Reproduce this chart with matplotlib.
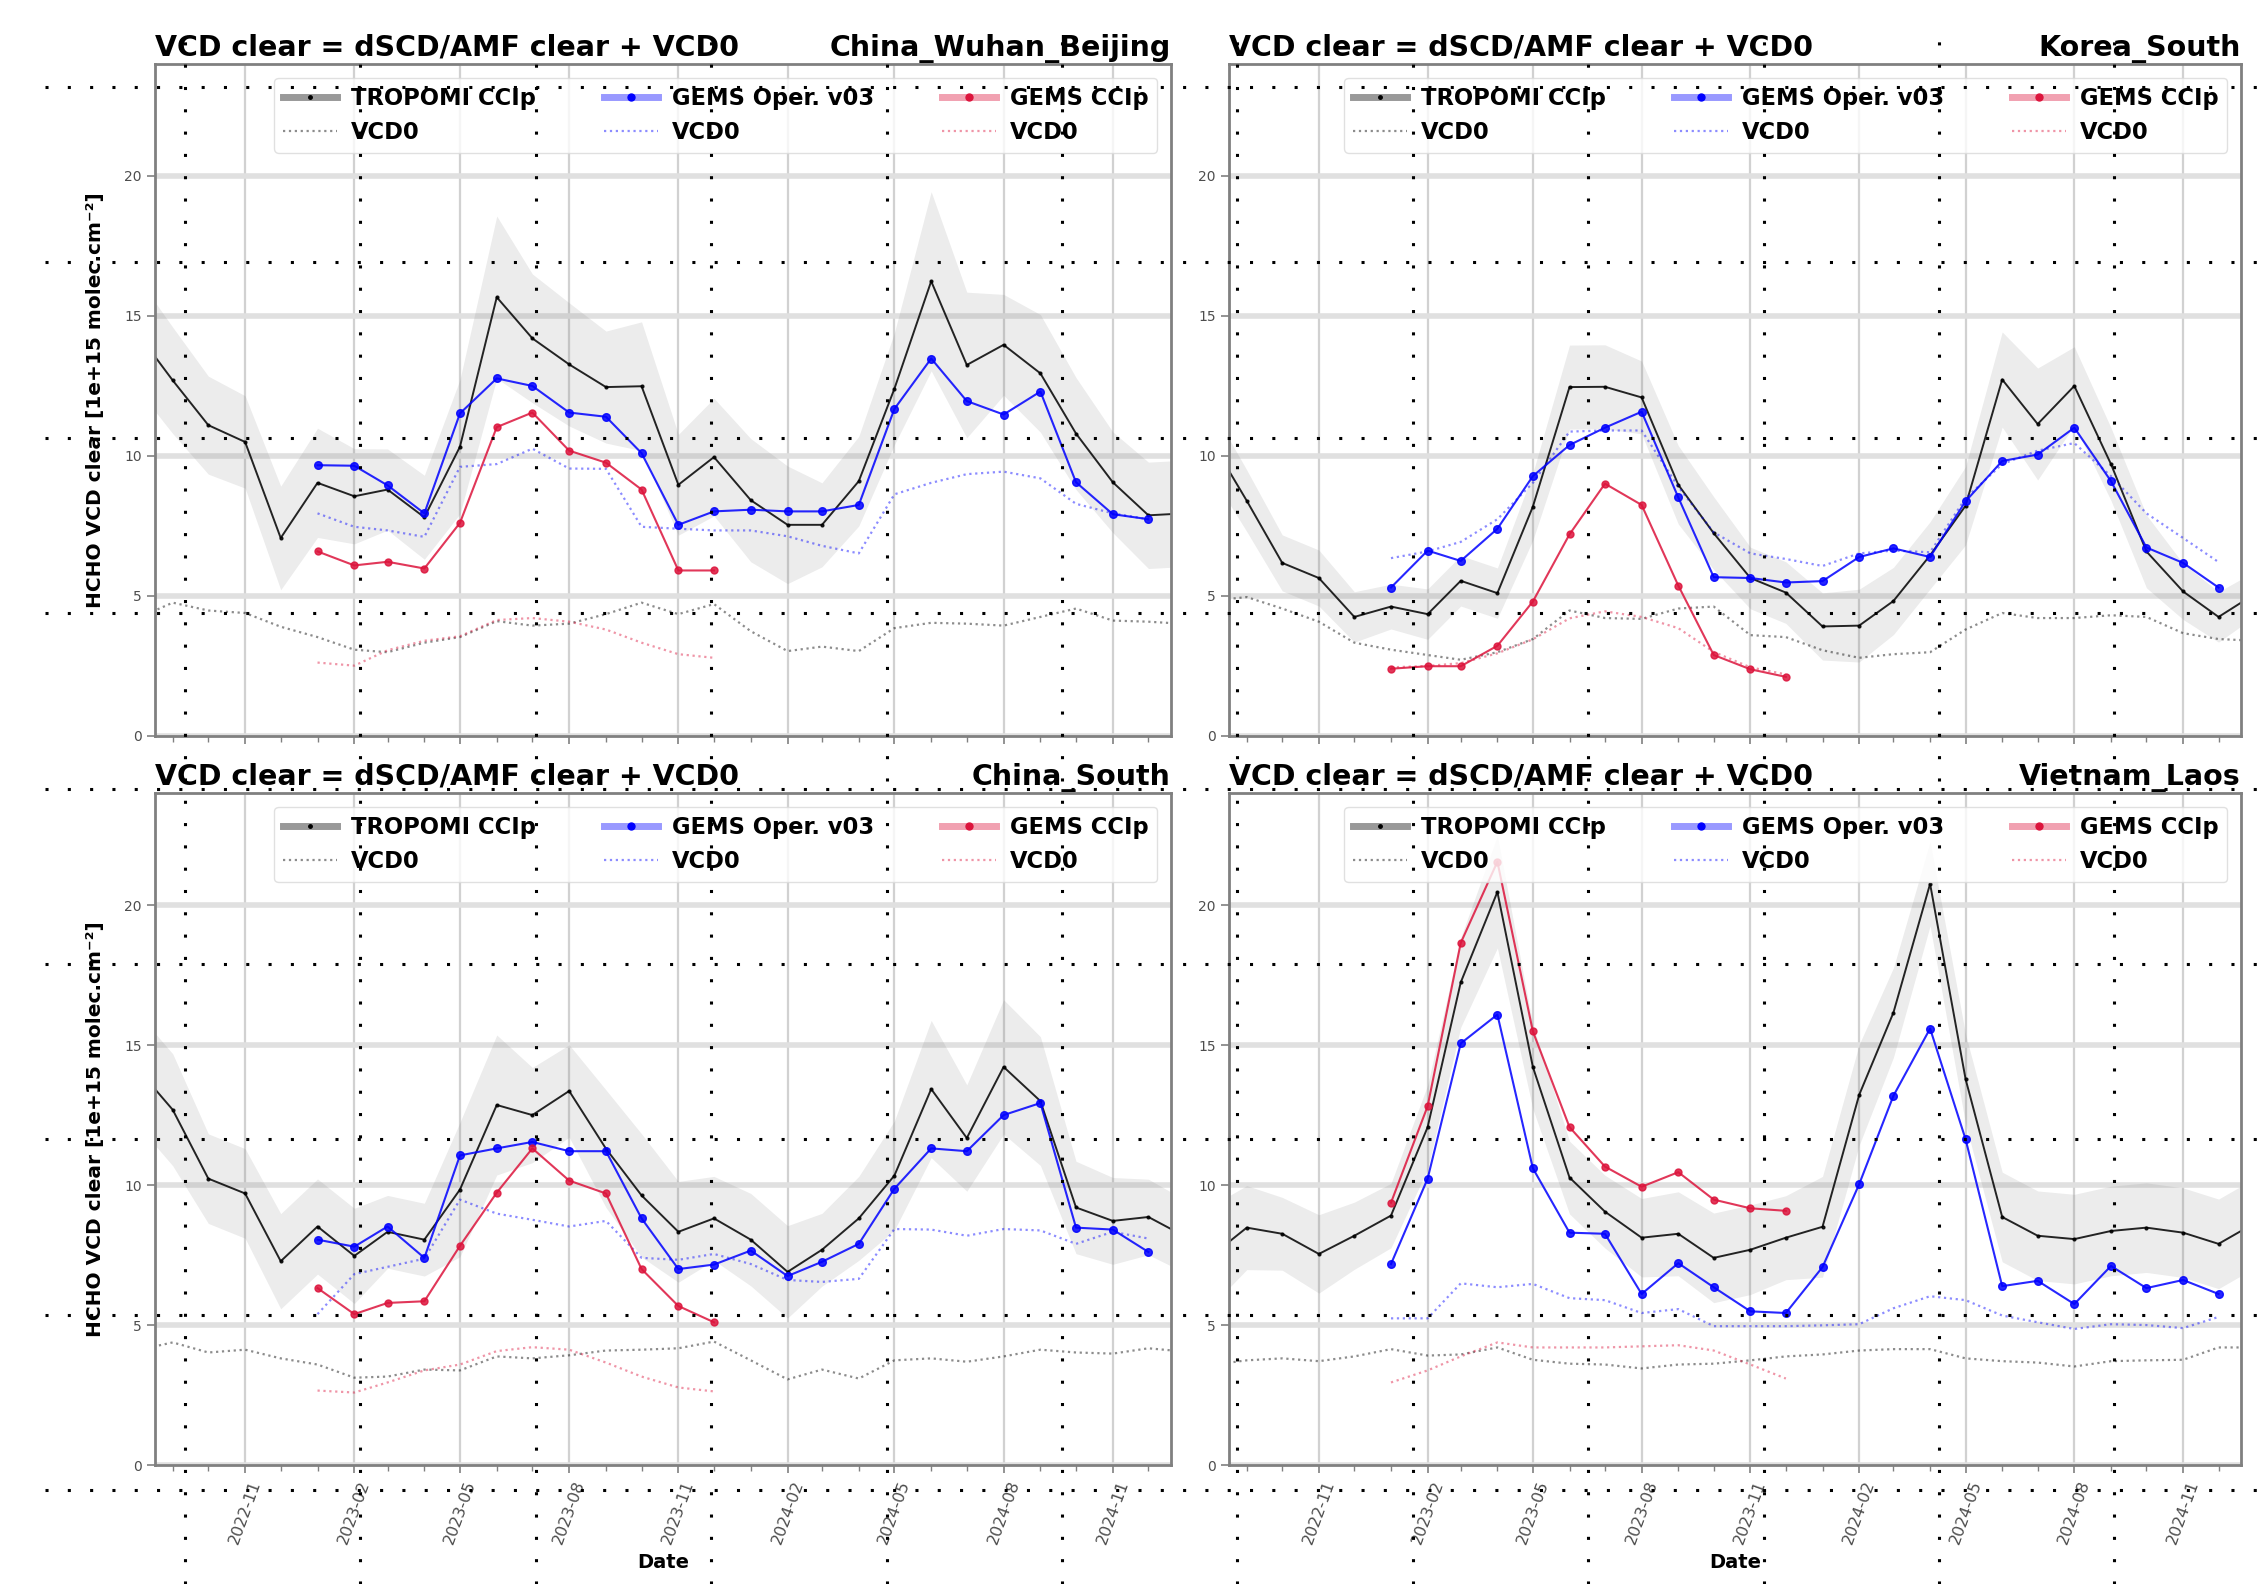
import numpy as np
import pandas as pd
import matplotlib
matplotlib.use('Agg')
import matplotlib.pyplot as plt
import matplotlib.dates as mdates
from matplotlib.lines import Line2D

# Monthly dates of each product
dates_trop = pd.date_range('2022-08-01', '2025-01-01', freq='MS')
dates_gems = pd.date_range('2023-01-01', '2024-12-01', freq='MS')
dates_ccip = pd.date_range('2023-01-01', '2023-12-01', freq='MS')

regions = ['China_Wuhan_Beijing', 'Korea_South', 'China_South', 'Vietnam_Laos']

# China_Wuhan_Beijing
trop_wuhan = [14.46, 12.70, 11.10, 10.50, 7.07, 9.04, 8.56, 8.80, 7.81, 10.33, 15.67, 14.20, 13.27, 12.46, 12.49,
              8.97, 9.96, 8.42, 7.54, 7.54, 9.10, 12.4, 16.24, 13.25, 13.97, 12.95, 10.80, 9.06, 7.88, 7.95]
trop_sd_wuhan = [2.0, 1.9, 1.75, 1.65, 1.85, 1.95, 1.7, 1.45, 1.5, 2.4, 2.9, 2.3, 2.2, 2.0, 2.3,
                 1.8, 2.1, 2.2, 2.1, 1.5, 1.6, 2.0, 3.2, 2.6, 1.8, 2.1, 2.0, 1.8, 1.9, 1.9]
trop_vcd0_wuhan = [4.18, 4.76, 4.48, 4.39, 3.90, 3.53, 3.08, 2.99, 3.33, 3.53, 4.10, 3.94, 4.01, 4.35, 4.76,
                   4.35, 4.71, 3.74, 3.03, 3.19, 3.03, 3.85, 4.04, 4.01, 3.94, 4.25, 4.55, 4.12, 4.08, 4.0]
gems_wuhan = [9.67, 9.65, 8.95, 7.95, 11.52, 12.77, 12.50, 11.55, 11.40, 10.10, 7.54, 8.02,
              8.08, 8.02, 8.02, 8.25, 11.68, 13.48, 11.96, 11.48, 12.30, 9.06, 7.92, 7.74]
gems_vcd0_wuhan = [7.95, 7.47, 7.34, 7.11, 9.61, 9.71, 10.26, 9.55, 9.54, 7.47, 7.40, 7.34,
                   7.34, 7.13, 6.79, 6.52, 8.63, 9.04, 9.35, 9.44, 9.20, 8.29, 7.95, 7.74]
ccip_wuhan = [6.59, 6.09, 6.22, 5.98, 7.61, 11.03, 11.55, 10.19, 9.76, 8.80, 5.91, 5.91]
ccip_vcd0_wuhan = [2.62, 2.51, 3.06, 3.40, 3.56, 4.14, 4.21, 4.08, 3.80, 3.33, 2.92, 2.79]

# Korea_South
trop_korea = [10.6, 8.4, 6.18, 5.64, 4.25, 4.62, 4.35, 5.54, 5.10, 8.19, 12.46, 12.47, 12.09, 8.97, 7.24,
              5.64, 5.12, 3.91, 3.94, 4.82, 6.45, 8.22, 12.73, 11.14, 12.50, 9.71, 6.59, 5.16, 4.25, 5.08]
trop_sd_korea = [1.2, 1.1, 1.0, 1.0, 0.9, 0.8, 0.9, 0.9, 0.9, 1.2, 1.5, 1.5, 1.3, 1.4, 1.3,
                 1.1, 1.1, 1.2, 1.3, 1.2, 1.2, 1.4, 1.7, 2.0, 1.4, 1.3, 1.3, 1.0, 0.9, 0.8]
trop_vcd0_korea = [4.82, 4.96, 4.55, 4.08, 3.33, 3.08, 2.89, 2.72, 2.99, 3.46, 4.48, 4.21, 4.18, 4.55, 4.62,
                   3.60, 3.53, 3.06, 2.79, 2.92, 2.99, 3.80, 4.39, 4.21, 4.21, 4.31, 4.25, 3.67, 3.46, 3.4]
gems_korea = [5.30, 6.62, 6.25, 7.40, 9.28, 10.39, 11.01, 11.58, 8.52, 5.67, 5.64, 5.48,
              5.53, 6.39, 6.70, 6.39, 8.38, 9.82, 10.05, 11.01, 9.10, 6.73, 6.18, 5.30]
gems_vcd0_korea = [6.35, 6.59, 6.93, 7.74, 9.04, 10.87, 10.91, 10.91, 8.90, 7.27, 6.52, 6.32,
                   6.07, 6.52, 6.62, 6.56, 8.49, 9.71, 10.19, 10.46, 9.28, 7.95, 7.07, 6.21]
ccip_korea = [2.40, 2.49, 2.49, 3.22, 4.80, 7.20, 9.01, 8.25, 5.37, 2.89, 2.38, 2.11]
ccip_vcd0_korea = [2.45, 2.5, 2.6, 2.95, 3.45, 4.2, 4.45, 4.25, 3.85, 3.0, 2.45, 2.2]

# China_South
trop_south = [14.22, 12.69, 10.23, 9.70, 7.28, 8.52, 7.47, 8.33, 8.05, 9.84, 12.86, 12.50, 13.36, 11.3, 9.63,
              8.33, 8.81, 8.05, 6.90, 7.69, 8.81, 10.34, 13.43, 11.68, 14.22, 13.0, 9.20, 8.72, 8.86, 8.16]
trop_sd_south = [2.0, 2.0, 1.6, 1.6, 1.7, 1.7, 1.7, 1.3, 1.3, 2.4, 2.5, 1.7, 1.65, 2.1, 2.2,
                 1.8, 1.5, 1.65, 1.65, 1.3, 1.5, 1.95, 2.45, 1.9, 2.4, 2.3, 1.65, 1.55, 1.35, 1.3]
trop_vcd0_south = [4.09, 4.38, 4.02, 4.12, 3.81, 3.59, 3.12, 3.16, 3.41, 3.38, 3.88, 3.81, 3.92, 4.09, 4.12,
                   4.17, 4.41, 3.74, 3.06, 3.41, 3.09, 3.74, 3.81, 3.69, 3.88, 4.12, 4.02, 3.98, 4.17, 4.05]
gems_south = [8.05, 7.80, 8.52, 7.40, 11.06, 11.31, 11.54, 11.21, 11.21, 8.81, 7.0, 7.16,
              7.66, 6.75, 7.26, 7.90, 9.87, 11.31, 11.21, 12.50, 12.93, 8.48, 8.41, 7.61]
gems_vcd0_south = [5.39, 6.82, 7.08, 7.37, 9.48, 8.98, 8.76, 8.52, 8.72, 7.40, 7.33, 7.54,
                   7.18, 6.61, 6.54, 6.65, 8.43, 8.41, 8.19, 8.43, 8.38, 7.90, 8.33, 8.09]
ccip_south = [6.32, 5.39, 5.79, 5.85, 7.83, 9.73, 11.31, 10.16, 9.70, 7.0, 5.68, 5.10]
ccip_vcd0_south = [2.66, 2.59, 2.95, 3.38, 3.59, 4.07, 4.21, 4.12, 3.66, 3.16, 2.77, 2.63]

# Vietnam_Laos
trop_viet = [7.43, 8.48, 8.26, 7.54, 8.19, 8.91, 12.07, 17.24, 20.47, 14.22, 10.27, 9.05, 8.12, 8.26, 7.40,
             7.69, 8.12, 8.51, 13.22, 16.16, 20.76, 13.79, 8.86, 8.19, 8.07, 8.36, 8.48, 8.30, 7.90, 8.65]
trop_sd_viet = [1.8, 1.5, 1.3, 1.4, 1.2, 1.15, 1.5, 1.6, 2.0, 1.5, 1.3, 1.3, 1.4, 1.5, 1.6,
                1.6, 1.5, 1.8, 1.8, 1.6, 1.5, 1.6, 1.6, 1.6, 1.6, 1.6, 1.6, 1.6, 1.6, 1.6]
trop_vcd0_viet = [3.57, 3.74, 3.81, 3.71, 3.88, 4.14, 3.91, 3.95, 4.20, 3.76, 3.62, 3.59, 3.45, 3.59, 3.62,
                  3.74, 3.88, 3.95, 4.09, 4.14, 4.14, 3.81, 3.71, 3.66, 3.52, 3.71, 3.74, 3.76, 4.20, 4.2]
gems_viet = [7.18, 10.23, 15.06, 16.09, 10.60, 8.30, 8.26, 6.11, 7.21, 6.35, 5.49, 5.43,
             7.07, 10.03, 13.19, 15.59, 11.64, 6.39, 6.58, 5.75, 7.11, 6.32, 6.61, 6.11]
gems_vcd0_viet = [5.24, 5.24, 6.49, 6.35, 6.47, 5.96, 5.89, 5.43, 5.57, 4.96, 4.96, 4.96,
                  4.99, 5.03, 5.60, 6.03, 5.89, 5.34, 5.10, 4.86, 5.03, 5.0, 4.89, 5.29]
ccip_viet = [9.37, 12.82, 18.65, 21.55, 15.49, 12.07, 10.66, 9.94, 10.46, 9.48, 9.17, 9.08]
ccip_vcd0_viet = [2.95, 3.38, 3.88, 4.38, 4.20, 4.20, 4.20, 4.24, 4.28, 4.09, 3.59, 3.09]

panels = [
    (trop_wuhan, trop_sd_wuhan, trop_vcd0_wuhan, gems_wuhan, gems_vcd0_wuhan, ccip_wuhan, ccip_vcd0_wuhan),
    (trop_korea, trop_sd_korea, trop_vcd0_korea, gems_korea, gems_vcd0_korea, ccip_korea, ccip_vcd0_korea),
    (trop_south, trop_sd_south, trop_vcd0_south, gems_south, gems_vcd0_south, ccip_south, ccip_vcd0_south),
    (trop_viet, trop_sd_viet, trop_vcd0_viet, gems_viet, gems_vcd0_viet, ccip_viet, ccip_vcd0_viet),
]

RED = '#dc143c'
W, H = 2268, 1584
fig = plt.figure(figsize=(W / 100, H / 100), dpi=100)

# axes positions (figure fractions)
boxes = [[0.0683, 0.5354, 0.448, 0.4242], [0.5419, 0.5354, 0.4462, 0.4242],
         [0.0683, 0.0751, 0.448, 0.4242], [0.5419, 0.0751, 0.4462, 0.4242]]

for i, (region, data) in enumerate(zip(regions, panels)):
    trop, trop_sd, trop_v0, gems, gems_v0, ccip, ccip_v0 = [np.array(d) for d in data]
    ax = fig.add_axes(boxes[i])
    ax.set_axisbelow(True)

    # TROPOMI with std band
    ax.fill_between(dates_trop, trop - trop_sd, trop + trop_sd, color='0.5', alpha=0.15, lw=0)
    ax.plot(dates_trop, trop, color='k', lw=1.4, marker='.', ms=4, alpha=0.85)
    ax.plot(dates_trop, trop_v0, color='k', lw=1.6, ls=':', alpha=0.45)

    # GEMS operational
    ax.plot(dates_gems, gems, color='b', lw=1.5, marker='o', ms=5.5, alpha=0.85)
    ax.plot(dates_gems, gems_v0, color='b', lw=1.6, ls=':', alpha=0.45)

    # GEMS CCIp
    ax.plot(dates_ccip, ccip, color=RED, lw=1.5, marker='o', ms=5, alpha=0.85)
    ax.plot(dates_ccip, ccip_v0, color=RED, lw=1.6, ls=':', alpha=0.45)

    ax.set_ylim(0, 24)
    ax.set_yticks([0, 5, 10, 15, 20])
    ax.set_xlim(pd.Timestamp('2022-08-17'), pd.Timestamp('2024-12-20'))
    ax.xaxis.set_major_locator(mdates.MonthLocator(bymonth=[2, 5, 8, 11]))
    ax.xaxis.set_minor_locator(mdates.MonthLocator())
    ax.xaxis.set_major_formatter(mdates.DateFormatter('%Y-%m'))

    ax.yaxis.grid(True, lw=4, color='0.88')
    ax.xaxis.grid(True, lw=1.6, color='0.82')
    for s in ax.spines.values():
        s.set_color('0.5')
        s.set_linewidth(2)
    ax.tick_params(axis='both', which='major', labelsize=10, colors='0.5', labelcolor='0.3', length=6, width=1.2)
    ax.tick_params(axis='x', which='major', labelsize=11.5)
    ax.tick_params(axis='x', which='minor', colors='0.5', length=4, width=1)

    if i < 2:
        ax.tick_params(axis='x', labelbottom=False)
    else:
        plt.setp(ax.get_xticklabels(), rotation=70)
        ax.set_xlabel('Date', fontsize=14, fontweight='bold', labelpad=5)
    if i % 2 == 0:
        ax.set_ylabel('HCHO VCD clear [1e+15 molec.cm⁻²]', fontsize=14.5, fontweight='bold', labelpad=14)

    ax.set_title('VCD clear = dSCD/AMF clear + VCD0', loc='left', fontsize=20.5, fontweight='bold', pad=6)
    ax.set_title(region, loc='right', fontsize=20.5, fontweight='bold', pad=6)

    # legend with thick translucent handles
    handles = [
        (Line2D([], [], color='k', lw=5, alpha=0.4), Line2D([], [], color='k', marker='.', ms=5, ls='')),
        Line2D([], [], color='k', lw=1.6, ls=':', alpha=0.45),
        (Line2D([], [], color='b', lw=5, alpha=0.4), Line2D([], [], color='b', marker='o', ms=5, ls='')),
        Line2D([], [], color='b', lw=1.6, ls=':', alpha=0.45),
        (Line2D([], [], color=RED, lw=5, alpha=0.4), Line2D([], [], color=RED, marker='o', ms=5, ls='')),
        Line2D([], [], color=RED, lw=1.6, ls=':', alpha=0.45),
    ]
    labels = ['TROPOMI CCIp', 'VCD0', 'GEMS Oper. v03', 'VCD0', 'GEMS CCIp', 'VCD0']
    ax.legend(handles, labels, loc='upper right', ncol=3, prop={'weight': 'bold', 'size': 16.3},
              handlelength=2.4, handletextpad=0.6, columnspacing=3.0, labelspacing=0.5,
              borderaxespad=0.6, framealpha=0.8, edgecolor='0.85')

# dotted overlay grid over the whole picture
step = 175.4
for k in range(9):
    y = 1 - (87 + step * k) / H
    fig.add_artist(Line2D([45 / W, 1], [y, y], transform=fig.transFigure, color='k', lw=2.2,
                          ls=(0, (1, 6.3)), zorder=100))
for k in range(12):
    x = (185 + step * k) / W
    fig.add_artist(Line2D([x, x], [0, 1 - 25 / H], transform=fig.transFigure, color='k', lw=2.2,
                          ls=(0, (1, 6.3)), zorder=100))

plt.savefig('out.png', dpi=100)
